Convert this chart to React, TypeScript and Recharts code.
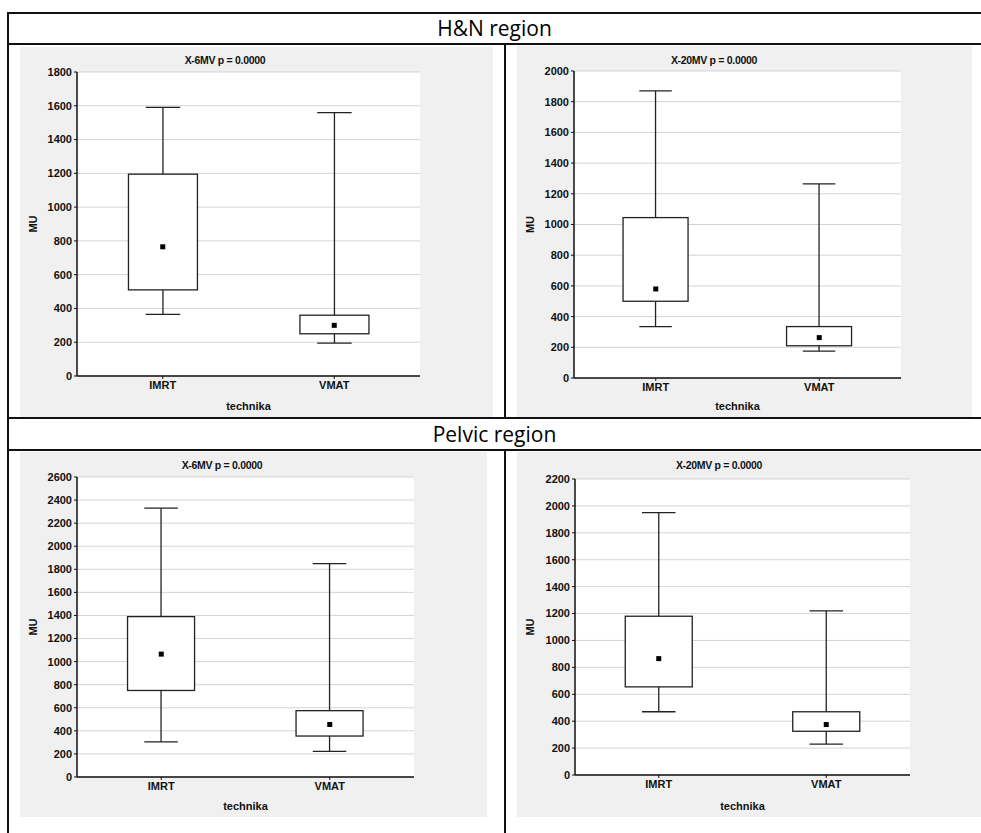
import { Bar, CartesianGrid, ComposedChart, Label, Line, XAxis, YAxis } from "recharts";

const techniques = ["IMRT", "VMAT"];

const hn6Min = [365, 195];
const hn6Q1 = [510, 250];
const hn6Median = [765, 300];
const hn6Q3 = [1195, 360];
const hn6Max = [1590, 1560];
const hn6Ticks = [0, 200, 400, 600, 800, 1000, 1200, 1400, 1600, 1800];

const hn20Min = [335, 175];
const hn20Q1 = [500, 210];
const hn20Median = [580, 263];
const hn20Q3 = [1045, 335];
const hn20Max = [1870, 1265];
const hn20Ticks = [0, 200, 400, 600, 800, 1000, 1200, 1400, 1600, 1800, 2000];

const pel6Min = [305, 222];
const pel6Q1 = [750, 355];
const pel6Median = [1065, 455];
const pel6Q3 = [1390, 575];
const pel6Max = [2330, 1850];
const pel6Ticks = [0, 200, 400, 600, 800, 1000, 1200, 1400, 1600, 1800, 2000, 2200, 2400, 2600];

const pel20Min = [470, 230];
const pel20Q1 = [655, 325];
const pel20Median = [865, 375];
const pel20Q3 = [1180, 470];
const pel20Max = [1950, 1220];
const pel20Ticks = [0, 200, 400, 600, 800, 1000, 1200, 1400, 1600, 1800, 2000, 2200];

const FONT = '"Liberation Sans", Arial, sans-serif';
const INK = "#222";

const LowerWhisker = (props: any) => {
  const { x, y, width, height } = props;
  const cx = x + width / 2;
  const bottom = y + height;
  return (
    <g>
      <line x1={cx} y1={y} x2={cx} y2={bottom} stroke={INK} strokeWidth={1.3} />
      <line x1={cx - width / 4} y1={bottom} x2={cx + width / 4} y2={bottom} stroke={INK} strokeWidth={1.3} />
    </g>
  );
};

const UpperWhisker = (props: any) => {
  const { x, y, width, height } = props;
  const cx = x + width / 2;
  return (
    <g>
      <line x1={cx} y1={y} x2={cx} y2={y + height} stroke={INK} strokeWidth={1.3} />
      <line x1={cx - width / 4} y1={y} x2={cx + width / 4} y2={y} stroke={INK} strokeWidth={1.3} />
    </g>
  );
};

const BoxShape = (props: any) => {
  const { x, y, width, height } = props;
  return <rect x={x} y={y} width={width} height={height} fill="#fff" stroke={INK} strokeWidth={1.3} />;
};

const MedianDot = (props: any) => {
  const { cx, cy, index } = props;
  return <rect key={index} x={cx - 2.5} y={cy - 2.5} width={5} height={5} fill="#000" />;
};

const tickStyle = { fontSize: 11, fontWeight: 700, fill: "#111", fontFamily: FONT };

function Panel(p: any) {
  const rows = techniques.map((name, i) => ({
    name,
    base: p.mins[i],
    lower: p.q1s[i] - p.mins[i],
    box: p.q3s[i] - p.q1s[i],
    upper: p.maxs[i] - p.q3s[i],
    median: p.medians[i],
  }));
  const top = p.ticks[p.ticks.length - 1];
  return (
    <div style={{ position: "absolute", left: p.left, top: p.top, width: p.width, height: p.height, background: "#f0f0f0" }}>
      <div
        style={{
          position: "absolute",
          left: p.titleX - 60,
          width: 120,
          top: p.titleY - 7,
          textAlign: "center",
          fontFamily: FONT,
          fontWeight: 700,
          fontSize: 10.5,
          letterSpacing: -0.3,
          color: "#111",
          lineHeight: "14px",
        }}
      >
        {p.title}
      </div>
      <ComposedChart
        width={p.width}
        height={p.height}
        data={rows}
        margin={{ top: p.mTop, right: p.mRight, left: 0, bottom: 0 }}
        barCategoryGap="30%"
        style={{ position: "absolute", left: 0, top: 0 }}
      >
        <CartesianGrid vertical={false} stroke="#d4d4d4" strokeWidth={1} fill="#fff" />
        <XAxis
          dataKey="name"
          height={p.xAxisH}
          tickLine={{ stroke: "#111" }}
          tickSize={3}
          axisLine={{ stroke: "#111", strokeWidth: 1.5 }}
          tick={tickStyle}
        >
          <Label
            value="technika"
            position="insideBottom"
            offset={7}
            style={{ fontSize: 11, fontWeight: 700, fill: "#111", fontFamily: FONT }}
          />
        </XAxis>
        <XAxis
          xAxisId="top"
          dataKey="name"
          orientation="top"
          height={0}
          mirror
          tickSize={3}
          tick={false}
          tickLine={{ stroke: "#111" }}
          axisLine={{ stroke: "#111", strokeWidth: 1.5 }}
        />
        <YAxis
          width={p.yAxisW}
          domain={[0, top]}
          ticks={p.ticks}
          interval={0}
          tickSize={3}
          tickLine={{ stroke: "#111" }}
          axisLine={{ stroke: "#111", strokeWidth: 1.5 }}
          tick={tickStyle}
        >
          <Label
            value="MU"
            angle={-90}
            position="insideLeft"
            offset={13}
            style={{ fontSize: 11, fontWeight: 700, fill: "#111", fontFamily: FONT, textAnchor: "middle" }}
          />
        </YAxis>
        <YAxis
          yAxisId="right"
          orientation="right"
          width={0}
          mirror
          domain={[0, top]}
          ticks={p.ticks}
          interval={0}
          tickSize={3}
          tick={false}
          tickLine={{ stroke: "#111" }}
          axisLine={{ stroke: "#111", strokeWidth: 1.5 }}
        />
        <Bar dataKey="base" stackId="s" fill="none" isAnimationActive={false} />
        <Bar dataKey="lower" stackId="s" shape={<LowerWhisker />} isAnimationActive={false} />
        <Bar dataKey="box" stackId="s" shape={<BoxShape />} isAnimationActive={false} />
        <Bar dataKey="upper" stackId="s" shape={<UpperWhisker />} isAnimationActive={false} />
        <Line
          dataKey="median"
          stroke="none"
          dot={<MedianDot />}
          activeDot={false}
          legendType="none"
          isAnimationActive={false}
        />
      </ComposedChart>
    </div>
  );
}

const line = (l: number, t: number, w: number, h: number) => (
  <div style={{ position: "absolute", left: l, top: t, width: w, height: h, background: "#111" }} />
);

const headerStyle = {
  position: "absolute" as const,
  left: 8,
  width: 973,
  textAlign: "center" as const,
  fontFamily: '"Open Sans", "Noto Sans", sans-serif',
  fontSize: 21,
  fontWeight: 500,
  color: "#000",
  lineHeight: "30px",
};

export default function App() {
  return (
    <div style={{ position: "absolute", left: 0, top: 0, width: 981, height: 833, background: "#fff", overflow: "hidden" }}>
      <div style={{ ...headerStyle, top: 13 }}>H&amp;N region</div>
      <div style={{ ...headerStyle, top: 419 }}>Pelvic region</div>

      <Panel
        left={20} top={47} width={473} height={370}
        yAxisW={57} mTop={25} mRight={73} xAxisH={41}
        titleX={205} titleY={13} title="X-6MV p = 0.0000"
        ticks={hn6Ticks} mins={hn6Min} q1s={hn6Q1} medians={hn6Median} q3s={hn6Q3} maxs={hn6Max}
      />
      <Panel
        left={517} top={46} width={455} height={371}
        yAxisW={57} mTop={25} mRight={71} xAxisH={39}
        titleX={197} titleY={14} title="X-20MV p = 0.0000"
        ticks={hn20Ticks} mins={hn20Min} q1s={hn20Q1} medians={hn20Median} q3s={hn20Q3} maxs={hn20Max}
      />
      <Panel
        left={20} top={452} width={467} height={365}
        yAxisW={57} mTop={25} mRight={73} xAxisH={40}
        titleX={202} titleY={13} title="X-6MV p = 0.0000"
        ticks={pel6Ticks} mins={pel6Min} q1s={pel6Q1} medians={pel6Median} q3s={pel6Q3} maxs={pel6Max}
      />
      <Panel
        left={517} top={452} width={464} height={365}
        yAxisW={58} mTop={27} mRight={71} xAxisH={42}
        titleX={202} titleY={13} title="X-20MV p = 0.0000"
        ticks={pel20Ticks} mins={pel20Min} q1s={pel20Q1} medians={pel20Median} q3s={pel20Q3} maxs={pel20Max}
      />

      {line(8, 12, 973, 2)}
      {line(8, 43, 973, 2)}
      {line(8, 417, 973, 2)}
      {line(8, 449, 973, 2)}
      {line(7, 12, 2, 821)}
      {line(504, 43, 2, 376)}
      {line(504, 449, 2, 384)}
    </div>
  );
}
